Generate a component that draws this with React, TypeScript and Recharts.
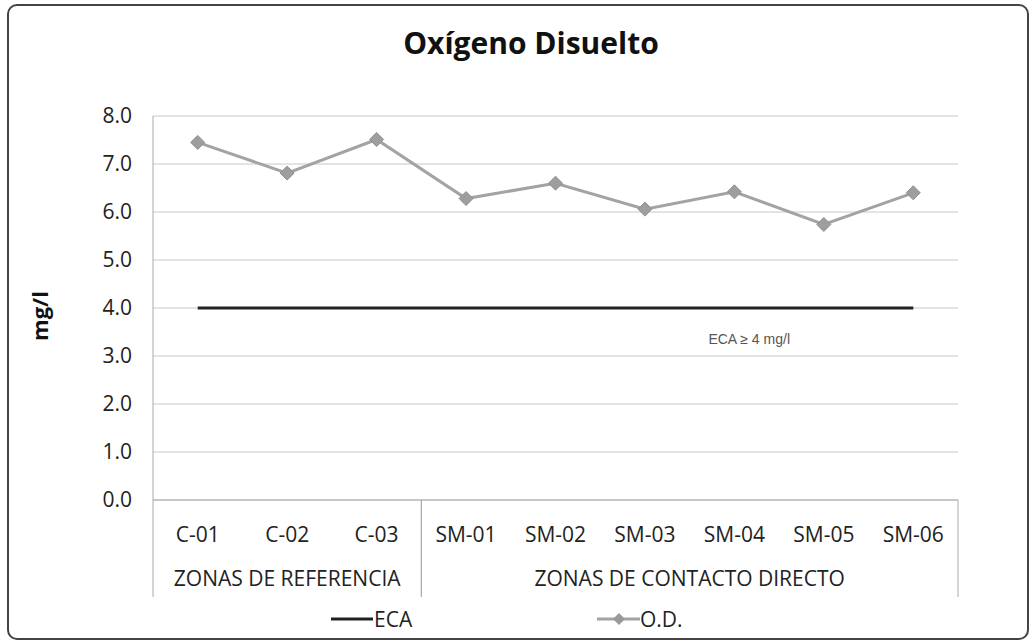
import React from 'react';
import { LineChart, Line, XAxis, YAxis, CartesianGrid, ReferenceLine, Label } from 'recharts';

const categories = ['C-01', 'C-02', 'C-03', 'SM-01', 'SM-02', 'SM-03', 'SM-04', 'SM-05', 'SM-06'];
const odValues = [7.45, 6.81, 7.51, 6.28, 6.6, 6.06, 6.42, 5.74, 6.4];
const ecaValues = [4, 4, 4, 4, 4, 4, 4, 4, 4];
const groups = [
  { label: 'ZONAS DE REFERENCIA', start: 0, end: 2 },
  { label: 'ZONAS DE CONTACTO DIRECTO', start: 3, end: 8 },
];
const yTicks = [0, 1, 2, 3, 4, 5, 6, 7, 8];
const ecaLimit = 4;
const legendItems = ['ECA', 'O.D.'];

const data = categories.map((c, i) => ({ name: c, od: odValues[i], eca: ecaValues[i] }));

const W = 1030;
const H = 642;
const M = { top: 116, right: 72, bottom: 0, left: 0 };
const X_AXIS_H = 142;
const Y_AXIS_W = 153;
const PLOT_W = W - M.left - M.right - Y_AXIS_W;
const BW = PLOT_W / categories.length;
const FONT = '"Open Sans", sans-serif';
const TEXT = '#222';

const CatTick = (props: any) => {
  const { x, y, payload, index } = props;
  const out: any[] = [
    <text key="t" x={x} y={y + 42} textAnchor="middle" fontFamily={FONT} fontSize={21} fill={TEXT}>
      {payload.value}
    </text>,
  ];
  groups.forEach((g, gi) => {
    if (index === g.start) {
      const left = x - BW / 2;
      const n = g.end - g.start + 1;
      out.push(<line key={'l' + gi} x1={left} x2={left} y1={y} y2={y + 97} stroke="#aaa" strokeWidth={1} />);
      out.push(
        <text key={'g' + gi} x={left + (n * BW) / 2} y={y + 86} textAnchor="middle" fontFamily={FONT} fontSize={21} fill={TEXT}>
          {g.label}
        </text>
      );
    }
    if (index === g.end) {
      const right = x + BW / 2;
      out.push(<line key={'r' + gi} x1={right} x2={right} y1={y} y2={y + 97} stroke="#aaa" strokeWidth={1} />);
    }
  });
  return <g>{out}</g>;
};

const LegendBlock = () => (
  <svg width={W} height={36} style={{ position: 'absolute', left: 0, top: 605, display: 'block' }}>
    <line x1={331} x2={373} y1={14} y2={14} stroke="#222" strokeWidth={3} />
    <text x={374} y={22} fontFamily={FONT} fontSize={21} fill={TEXT}>{legendItems[0]}</text>
    <line x1={597} x2={640} y1={14} y2={14} stroke="#a3a3a3" strokeWidth={3} />
    <polygon points="619,8 625,14 619,20 613,14" fill="#999" />
    <text x={640} y={22} fontFamily={FONT} fontSize={21} fill={TEXT}>{legendItems[1]}</text>
  </svg>
);

const Diamond = (props: any) => {
  const { cx, cy } = props;
  if (cx == null || cy == null) return null;
  const r = 7;
  return <polygon points={`${cx},${cy - r} ${cx + r},${cy} ${cx},${cy + r} ${cx - r},${cy}`} fill="#9e9e9e" stroke="#8f8f8f" strokeWidth={1} />;
};

export default function App() {
  return (
    <div style={{ position: 'absolute', left: 0, top: 0, width: W, height: H, background: '#fff', overflow: 'hidden' }}>
      <div
        style={{
          position: 'absolute',
          left: 7,
          top: 4,
          width: 1018,
          height: 632,
          border: '2px solid #444',
          borderRadius: 10,
        }}
      />
      <div
        style={{
          position: 'absolute',
          left: 331,
          top: 28,
          width: 400,
          textAlign: 'center',
          fontFamily: FONT,
          fontWeight: 700,
          fontSize: 30,
          lineHeight: '30px',
          color: '#111',
        }}
      >
        Oxígeno Disuelto
      </div>
      <LineChart width={W} height={H} data={data} margin={M} style={{ position: 'absolute', left: 0, top: 0 }}>
        <CartesianGrid vertical={false} stroke="#c8c8c8" />
        <XAxis
          dataKey="name"
          interval={0}
          padding={{ left: BW / 2, right: BW / 2 }}
          tickLine={false}
          tickSize={0}
          tickMargin={0}
          axisLine={{ stroke: '#aaa' }}
          tick={<CatTick />}
          height={X_AXIS_H}
        />
        <YAxis
          width={Y_AXIS_W}
          domain={[0, 8]}
          ticks={yTicks}
          tickFormatter={(v: number) => v.toFixed(1)}
          tickLine={false}
          tickSize={0}
          tickMargin={21}
          axisLine={{ stroke: '#aaa' }}
          tick={{ fontFamily: FONT, fontSize: 21, fill: TEXT }}
        >
          <Label
            content={(p: any) => {
              const vb = p.viewBox || {};
              const cx = 42;
              const cy = (vb.y || 0) + (vb.height || 0) / 2 + 8;
              return (
                <text x={cx} y={cy} transform={`rotate(-90 ${cx} ${cy})`} textAnchor="middle" dominantBaseline="middle" fontFamily={FONT} fontWeight={700} fontSize={22} fill="#111">
                  mg/l
                </text>
              );
            }}
          />
        </YAxis>
        <ReferenceLine
          y={ecaLimit}
          stroke="none"
          label={(p: any) => {
            const vb = p.viewBox || {};
            return (
              <text x={vb.x + vb.width - 168} y={vb.y + 36} textAnchor="end" fontFamily='"Liberation Sans", Arial, sans-serif' fontSize={14} fill="#555">
                ECA ≥ 4 mg/l
              </text>
            );
          }}
        />
        <Line dataKey="eca" stroke="#222" strokeWidth={3} dot={false} isAnimationActive={false} />
        <Line dataKey="od" stroke="#a3a3a3" strokeWidth={3} dot={<Diamond />} activeDot={false} isAnimationActive={false} />
      </LineChart>
      <LegendBlock />
    </div>
  );
}
